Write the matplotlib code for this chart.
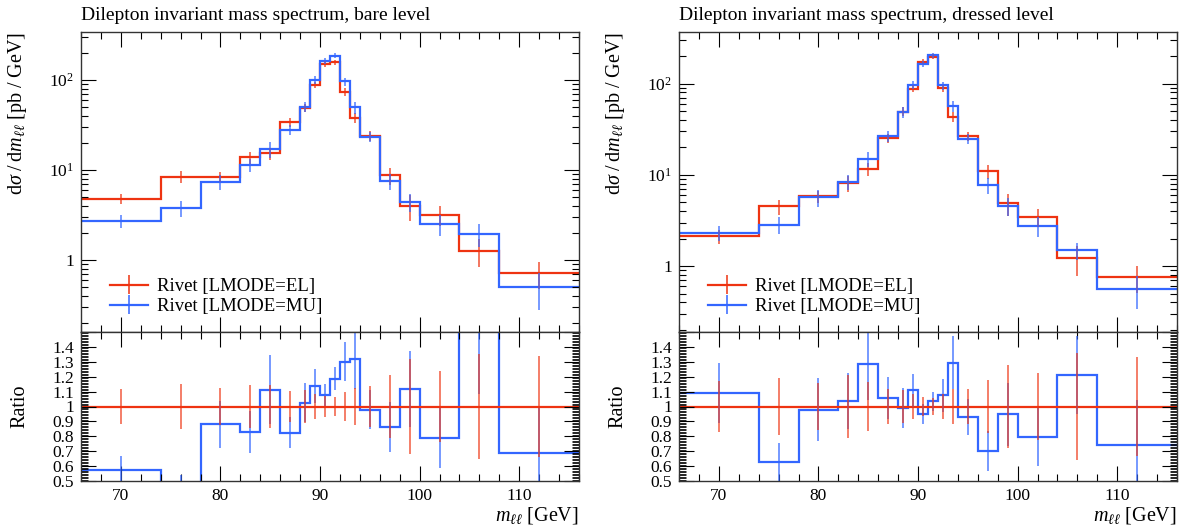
import numpy as np
import matplotlib
matplotlib.use('Agg')
import matplotlib.pyplot as plt
from matplotlib.ticker import MultipleLocator, LogLocator, FuncFormatter, FixedLocator, NullFormatter

plt.rcParams['font.family'] = ['Liberation Serif', 'DejaVu Serif']
plt.rcParams['mathtext.fontset'] = 'custom'
plt.rcParams['mathtext.rm'] = 'Liberation Serif'
plt.rcParams['mathtext.it'] = 'Liberation Serif:italic'

#Bin edges in m_ll [GeV]
edges = [66, 74, 78, 82, 84, 86, 88, 89, 90, 91, 92, 93, 94, 96, 98, 100, 104, 108, 116]

#Bare level, dsigma/dm [pb/GeV]
bare_el = [4.78, 8.4, 8.4, 13.8, 15.3, 33.8, 49.2, 88, 151, 157, 74, 37.8, 24, 8.7, 3.96, 3.17, 1.27, 0.716]
bare_mu = [2.74, 3.78, 7.39, 11.43, 17.04, 27.85, 50.5, 100.1, 162.2, 186.4, 96.2, 49.9, 23.5, 7.5, 4.43, 2.50, 1.95, 0.494]
#errors as read in the ratio panel (relative to EL)
bare_el_err = [0.12, 0.149, 0.123, 0.147, 0.147, 0.103, 0.11, 0.083, 0.07, 0.062, 0.098, 0.125, 0.135, 0.21, 0.32, 0.24, 0.35, 0.34]
bare_mu_err = [0.095, 0.09, 0.16, 0.14, 0.234, 0.105, 0.13, 0.115, 0.074, 0.078, 0.13, 0.2, 0.13, 0.168, 0.257, 0.2, 0.45, 0.3]

#Dressed level
dressed_el = [2.13, 4.51, 5.81, 8.13, 11.6, 25.3, 49.3, 88, 174, 198, 89, 43.5, 26.7, 10.9, 4.87, 3.45, 1.23, 0.757]
dressed_mu = [2.32, 2.83, 5.69, 8.42, 14.9, 26.7, 48.7, 97.5, 165, 204.7, 95.6, 56.3, 24.8, 7.67, 4.61, 2.75, 1.49, 0.563]
dressed_el_err = [0.17, 0.19, 0.16, 0.21, 0.167, 0.12, 0.113, 0.085, 0.067, 0.056, 0.086, 0.118, 0.117, 0.18, 0.28, 0.226, 0.36, 0.33]
dressed_mu_err = [0.2, 0.13, 0.21, 0.19, 0.24, 0.14, 0.135, 0.11, 0.066, 0.065, 0.11, 0.18, 0.12, 0.135, 0.21, 0.196, 0.26, 0.3]

titles = ['Dilepton invariant mass spectrum, bare level',
          'Dilepton invariant mass spectrum, dressed level']

RED = '#ee3311'
BLUE = '#3366ff'

W, H = 1184, 529
fig = plt.figure(figsize=(W/100, H/100), dpi=100)

def log_fmt(v, pos):
    if abs(v - 1) < 1e-9:
        return '1'
    return r'$10^{%d}$' % int(round(np.log10(v)))

def style(ax):
    ax.tick_params(which='both', direction='in', top=True, right=True, labelsize=12.5)
    ax.tick_params(which='major', length=11, width=0.8, pad=5)
    ax.tick_params(which='minor', length=5, width=0.8)
    for s in ax.spines.values():
        s.set_linewidth(1.0)
        s.set_color('#333333')

panels = [
    (81, bare_el, bare_mu, bare_el_err, bare_mu_err, (0.158, 341)),
    (679, dressed_el, dressed_mu, dressed_el_err, dressed_mu_err, (0.19, 368)),
]

e = np.array(edges, dtype=float)
centers = 0.5 * (e[:-1] + e[1:])

for i, (x0, el, mu, el_err, mu_err, ylim) in enumerate(panels):
    el = np.array(el); mu = np.array(mu)
    el_err = np.array(el_err); mu_err = np.array(mu_err)

    ax = fig.add_axes([x0/W, (H-332)/H, 498/W, 300/H])
    rax = fig.add_axes([x0/W, (H-481)/H, 498/W, 149/H], sharex=ax)

    #main panel
    ax.stairs(el, e, color=RED, lw=1.6, baseline=None)
    ax.errorbar(centers, el, yerr=el_err*el, fmt='none', ecolor=RED, elinewidth=1.1, alpha=0.85)
    ax.stairs(mu, e, color=BLUE, lw=1.6, baseline=None)
    ax.errorbar(centers, mu, yerr=mu_err*el, fmt='none', ecolor=BLUE, elinewidth=1.1, alpha=0.85)
    ax.set_yscale('log')
    ax.set_ylim(*ylim)
    ax.set_xlim(66, 116)
    ax.yaxis.set_major_locator(LogLocator(base=10, numticks=10))
    ax.yaxis.set_minor_locator(LogLocator(base=10, subs=np.arange(2, 10), numticks=20))
    ax.yaxis.set_major_formatter(FuncFormatter(log_fmt))
    ax.yaxis.set_minor_formatter(NullFormatter())
    style(ax)
    ax.tick_params(labelbottom=False)
    ax.set_title(titles[i], loc='left', fontsize=14, pad=9)
    ax.set_ylabel(r'$\mathrm{d}\sigma\;/\;\mathrm{d}m_{\ell\ell}$ [pb / GeV]', fontsize=14.5, loc='top')
    ax.yaxis.set_label_coords(-0.104, 1.0)

    #legend handles
    h1 = ax.errorbar([], [], yerr=[], color=RED, lw=1.6, elinewidth=1.1)
    h2 = ax.errorbar([], [], yerr=[], color=BLUE, lw=1.6, elinewidth=1.1)
    ax.legend([h1, h2], ['Rivet [LMODE=EL]', 'Rivet [LMODE=MU]'], loc='lower left',
              bbox_to_anchor=(0.025, 0.0), frameon=False, fontsize=13.5,
              handlelength=2.0, handletextpad=0.5, labelspacing=0.15)

    #ratio panel
    ratio = mu / el
    rax.stairs(ratio, e, color=BLUE, lw=1.6, baseline=None)
    rax.errorbar(centers, ratio, yerr=mu_err, fmt='none', ecolor=BLUE, elinewidth=1.1, alpha=0.85)
    rax.stairs(np.ones(len(el)), e, color=RED, lw=1.6, baseline=None)
    rax.errorbar(centers, np.ones(len(el)), yerr=el_err, fmt='none', ecolor=RED, elinewidth=1.1, alpha=0.8)
    rax.set_ylim(0.5, 1.5)
    rax.set_xlim(66, 116)
    rax.yaxis.set_major_locator(FixedLocator([0.5, 0.6, 0.7, 0.8, 0.9, 1.0, 1.1, 1.2, 1.3, 1.4, 1.5]))
    rax.yaxis.set_major_formatter(FuncFormatter(lambda v, p: '' if v > 1.45 else '%g' % round(v, 2)))
    rax.yaxis.set_minor_locator(MultipleLocator(0.01))
    rax.xaxis.set_major_locator(MultipleLocator(10))
    rax.xaxis.set_minor_locator(MultipleLocator(2))
    style(rax)
    rax.tick_params(axis='y', which='minor', length=5, width=0.6)
    rax.set_ylabel('Ratio', fontsize=14.5)
    rax.yaxis.set_label_coords(-0.104, 0.5)
    rax.set_xlabel(r'$m_{\ell\ell}$ [GeV]', fontsize=14.5, loc='right')
    rax.xaxis.set_label_coords(1.0, -0.16)

fig.savefig('out.png', dpi=100)
